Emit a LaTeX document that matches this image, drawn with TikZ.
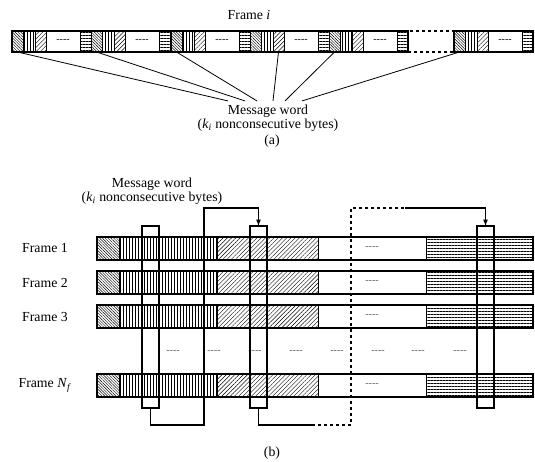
\documentclass[tikz,border=0pt]{standalone}
\usepackage{fontspec}
\setmainfont{Liberation Serif}
\usepackage{tikz}
\usetikzlibrary{positioning,patterns.meta,arrows}

\begin{document}
\begin{tikzpicture}[x=1pt, y=-1pt, >=latex,
    every node/.style={font=\fontsize{13.8}{14.5}\selectfont},
    cell/.style={draw, line width=0.6pt, inner sep=0pt, outer sep=0pt, anchor=west},
    nwcell/.style={cell, pattern={Lines[angle=-45,distance=2pt,line width=0.45pt]}},
    necell/.style={cell, pattern={Lines[angle=45,distance=3pt,line width=0.4pt]}},
    vcell/.style={cell, pattern={Lines[angle=90,distance=3pt,line width=0.5pt]}},
    hcell/.style={cell, pattern={Lines[angle=0,distance=3pt,line width=0.5pt]}},
    wcell/.style={cell},
    bar/.style={line width=1.3pt},
    column/.style={draw, line width=1.2pt, inner sep=0pt, outer sep=0pt, anchor=north, minimum width=17pt, minimum height=182pt},
    link/.style={line width=1.2pt},
    dashes/.style={font=\fontsize{10}{12}\selectfont, text=black!65}]
    \useasboundingbox (0,0) rectangle (535,461);

    % (a) one frame
    \node (frameI) at (249,15) {Frame \textit{i}};
    \foreach \g/\x in {1/12,2/91,3/171,4/250,5/329,6/454} {
        \node[nwcell, minimum width=11pt, minimum height=21pt, anchor=north west] (a\g) at (\x,31) {};
        \node[vcell, minimum width=12pt, minimum height=21pt, right=0pt of a\g] (v\g) {};
        \node[necell, minimum width=11pt, minimum height=21pt, right=0pt of v\g] (d\g) {};
        \node[wcell, minimum width=34pt, minimum height=21pt, right=0pt of d\g] (w\g) {\fontsize{10}{12}\selectfont -{}-{}-{}-};
        \node[hcell, minimum width=11pt, minimum height=21pt, right=0pt of w\g] (h\g) {};
    }
    \node[draw, dashed, line width=1.2pt, minimum width=46pt, minimum height=21pt, inner sep=0pt, outer sep=0pt, right=0pt of h5] (gap) {};
    \draw[bar] (a1.north west) rectangle (h5.south east);
    \draw[bar] (a6.north west) rectangle (h6.south east);

    \node[align=center] (msg) at (268,118) {Message word\\(\textit{k}\textsubscript{\textit{i}} nonconsecutive bytes)};
    \draw[line width=0.8pt] (a1.south) -- ([xshift=-40pt]msg.north);
    \draw[line width=0.8pt] (a2.south) -- ([xshift=-23pt]msg.north);
    \draw[line width=0.8pt] (a3.south) -- ([xshift=-11pt]msg.north);
    \draw[line width=0.8pt] (d4.south) -- ([xshift=5pt]msg.north);
    \draw[line width=0.8pt] (a5.south) -- ([xshift=17pt]msg.north);
    \draw[line width=0.8pt] (a6.south) -- ([xshift=34pt]msg.north);
    \node (labA) at (272,141) {(a)};

    % (b) N_f frames
    \node[align=center] (msgB) at (152,191) {Message word\\(\textit{k}\textsubscript{\textit{i}} nonconsecutive bytes)};
    \foreach \r/\y/\t in {1/237/Frame 1, 2/271/Frame 2, 3/305/Frame 3, n/374/Frame \textit{N}\textsubscript{\textit{f}}} {
        \node[nwcell, minimum width=22pt, minimum height=23pt, anchor=north west] (fa\r) at (97,\y) {};
        \node[vcell, minimum width=98pt, minimum height=23pt, right=0pt of fa\r] (fv\r) {};
        \node[necell, minimum width=101pt, minimum height=23pt, right=0pt of fv\r] (fd\r) {};
        \node[wcell, minimum width=108pt, minimum height=23pt, right=0pt of fd\r] (fw\r) {\fontsize{10}{12}\selectfont\color{black!65}-{}-{}-{}-};
        \node[hcell, minimum width=107pt, minimum height=23pt, right=0pt of fw\r] (fh\r) {};
        \draw[bar] (fa\r.north west) rectangle (fh\r.south east);
        \node (lab\r) at (45,\y+11.5) {\t};
    }
    \foreach \x in {173,214,255,296,337,378,418,460}
        \node[dashes] (dots\x) at (\x,352) {-{}-{}-{}-};

    \node[column] (col1) at (150.5,226) {};
    \node[column] (col2) at (258.5,226) {};
    \node[column] (col3) at (485.5,226) {};

    \coordinate (lowA) at (204,425);
    \coordinate (highA) at (204,208);
    \draw[link,->] (col1.south) |- (lowA) -- (highA) -| (col2.north);

    \coordinate (breakB1) at (312,425);
    \coordinate (lowB) at (351,425);
    \coordinate (highB) at (351,208);
    \coordinate (breakB2) at (405,208);
    \draw[link] (col2.south) |- (breakB1);
    \draw[link, dashed] (breakB1) -- (lowB) -- (highB) -- (breakB2);
    \draw[link,->] (breakB2) -| (col3.north);

    \node (labB) at (272,453) {(b)};
\end{tikzpicture}
\end{document}
